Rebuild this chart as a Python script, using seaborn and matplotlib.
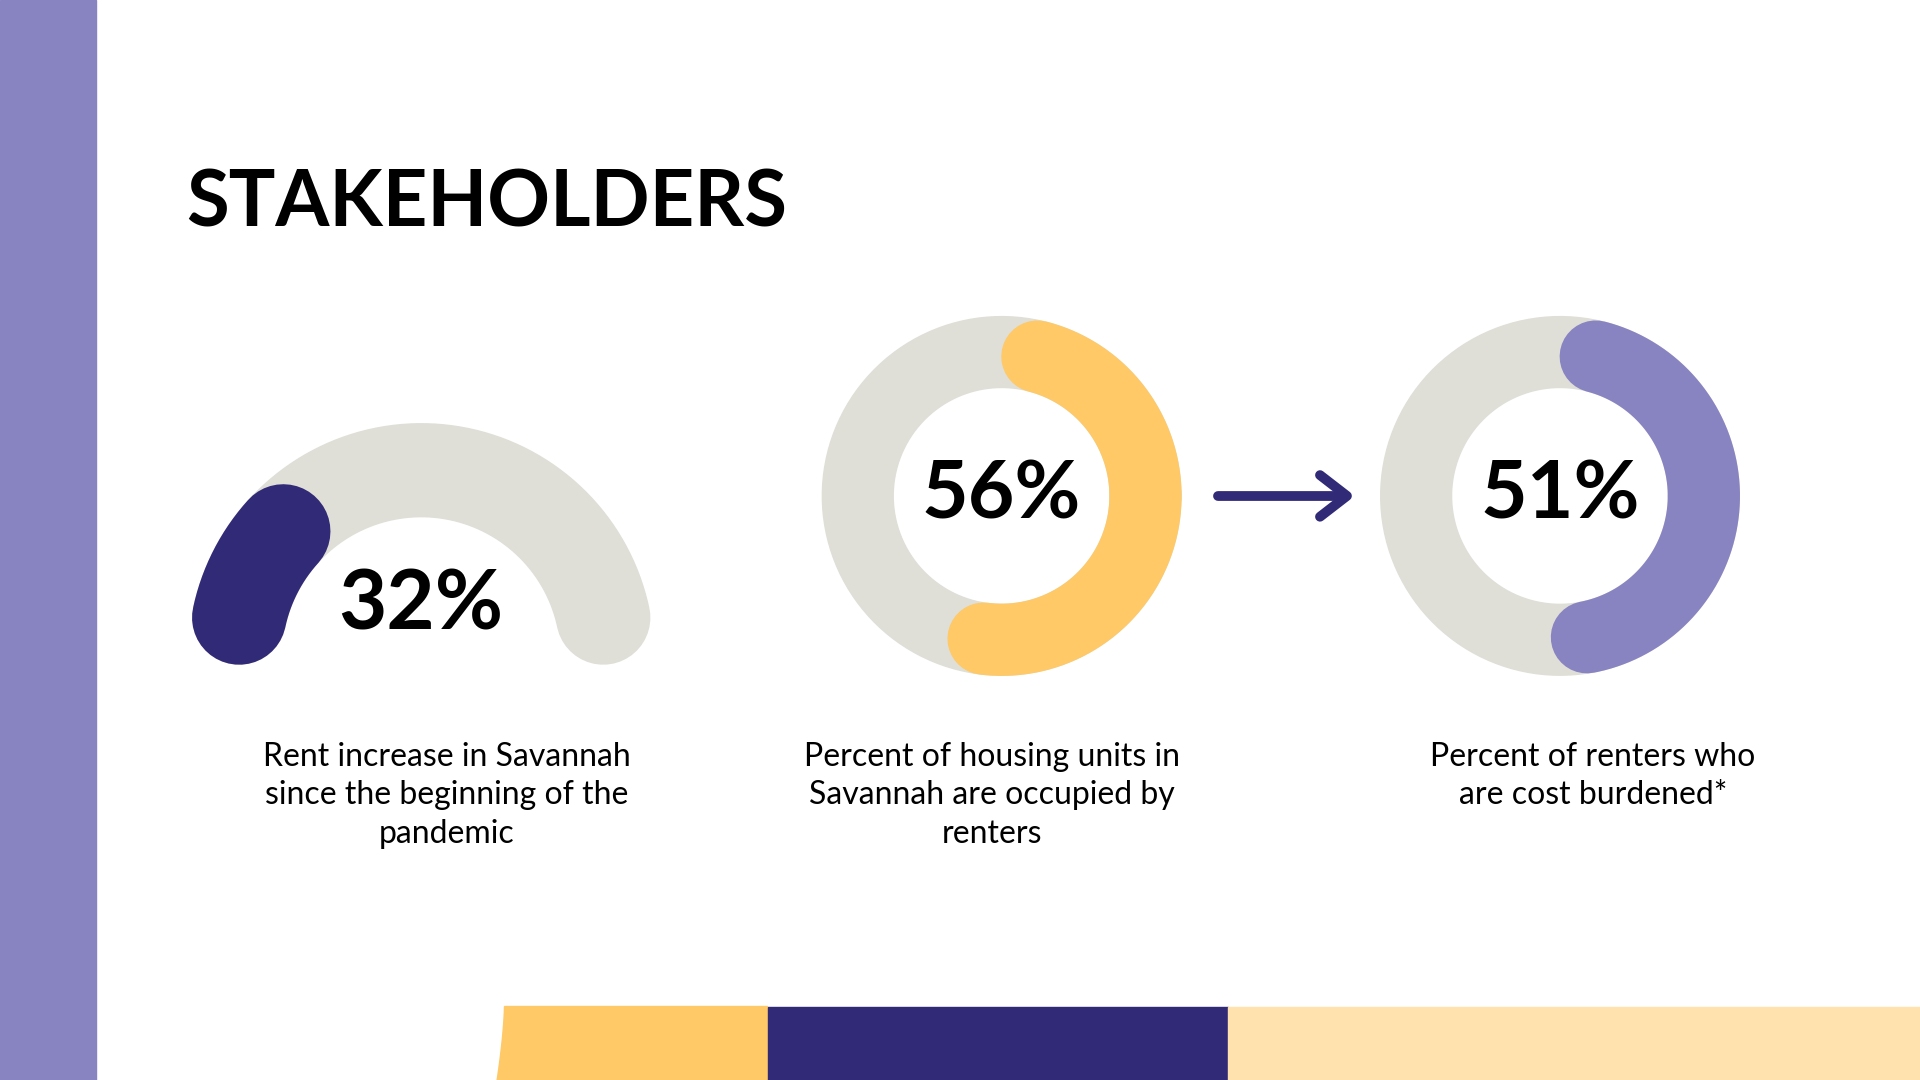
import numpy as np
import matplotlib
matplotlib.use("Agg")
import matplotlib.pyplot as plt
import seaborn as sns
from matplotlib.patches import Rectangle, Polygon

sns.set_theme(style="white")
plt.rcParams['font.family'] = ['Lato', 'DejaVu Sans']

title = "STAKEHOLDERS"
values = [32, 56, 51]
labels = ["32%", "56%", "51%"]
captions = ["Rent increase in Savannah\nsince the beginning of the\npandemic",
            "Percent of housing units in\nSavannah are occupied by\nrenters",
            "Percent of renters who\nare cost burdened*"]

GREY = "#dfdfd8"; NAVY = "#312a77"; YEL = "#fec966"; LAV = "#8884c1"; PALE = "#ffe2ad"

W, H = 1568, 882
fig = plt.figure(figsize=(19.2, 10.8), dpi=100)
ax = fig.add_axes([0, 0, 1, 1])
ax.set_xlim(0, W); ax.set_ylim(H, 0); ax.axis("off")
PT = (1920 / W) * 72 / 100  # points per reference pixel

def arc(cx, cy, r, a0, a1, width, color, z):
    t = np.radians(np.linspace(a0, a1, 300))
    ax.plot(cx + r * np.cos(t), cy - r * np.sin(t), color=color, lw=width * PT,
            solid_capstyle="round", zorder=z)

# gauge (value 1)
cx, cy, r, w = 344, 536, 152, 77
cap = np.degrees(w / 2 / r)
start, span = 182.5, 185
arc(cx, cy, r, start - cap, start - span + cap, w, GREY, 2)
arc(cx, cy, r, start - cap, start - span * values[0] / 100 + cap, w, NAVY, 3)
ax.text(cx, 495, labels[0], ha="center", va="center", fontsize=60, fontweight="bold", color="black", zorder=5)

# donuts
for (dx, col), v, lab in zip([(818, YEL), (1274, LAV)], values[1:], labels[1:]):
    r, w = 117.5, 59
    cap = np.degrees(w / 2 / r)
    t = np.radians(np.linspace(0, 360, 400))
    ax.plot(dx + r * np.cos(t), 405 - r * np.sin(t), color=GREY, lw=w * PT, zorder=2)
    arc(dx, 405, r, 90 - cap, 90 - 360 * v / 100 + cap, w, col, 3)
    ax.text(dx, 405, lab, ha="center", va="center", fontsize=58, fontweight="bold", color="black", zorder=5)

# arrow
ax.plot([995, 1098], [405, 405], color=NAVY, lw=8 * PT, solid_capstyle="round", zorder=3)
ax.plot([1078, 1100, 1078], [388, 405, 422], color=NAVY, lw=8 * PT,
        solid_capstyle="round", solid_joinstyle="round", zorder=3)

# title and captions
ax.text(152, 167, title, ha="left", va="center", fontsize=56, fontweight="bold", color="black")
for x, c in zip([365, 810, 1301], captions):
    ax.text(x, 606, c, ha="center", va="top", fontsize=23, color="black", linespacing=1.35)

# decorations
ax.add_patch(Rectangle((0, 0), 78, H, color=LAV, zorder=1))
yy = np.linspace(822, H, 30)
xl = 412 - 6 * ((yy - 822) / 60) ** 1.5
poly = list(zip(xl, yy)) + [(627, H), (627, 822)]
ax.add_patch(Polygon(poly, closed=True, color=YEL, zorder=1))
ax.add_patch(Rectangle((627, 822), 376, 60, color=NAVY, zorder=1))
ax.add_patch(Rectangle((1003, 822), W - 1003, 60, color=PALE, zorder=1))

fig.savefig("out.png", dpi=100, facecolor="white")
